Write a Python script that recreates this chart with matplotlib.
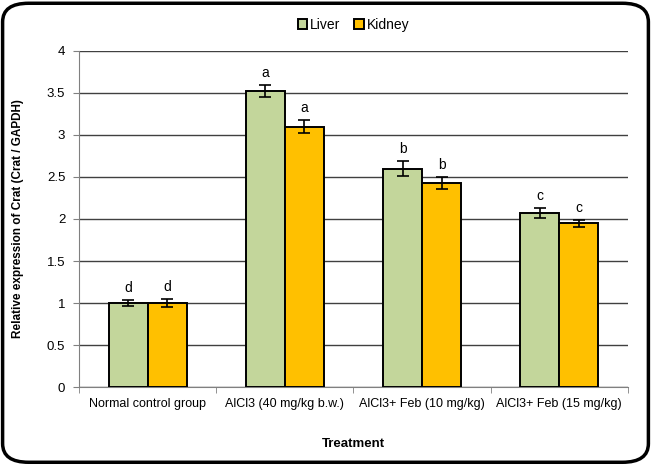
import matplotlib
matplotlib.use("Agg")
import matplotlib.pyplot as plt
import numpy as np
from matplotlib.patches import FancyBboxPatch

plt.rcParams['font.family'] = ['Liberation Sans', 'DejaVu Sans']

groups = ['Normal control group', 'AlCl3 (40 mg/kg b.w.)',
          'AlCl3+ Feb (10 mg/kg)', 'AlCl3+ Feb (15 mg/kg)']
liver = [1.0, 3.52, 2.6, 2.07]
liver_err = [0.04, 0.07, 0.09, 0.06]
kidney = [1.0, 3.1, 2.43, 1.95]
kidney_err = [0.05, 0.08, 0.07, 0.04]
liver_sig = ['d', 'a', 'b', 'c']
kidney_sig = ['d', 'a', 'b', 'c']

fig = plt.figure(figsize=(6.51, 4.66), dpi=100)
ax = fig.add_axes([0.1215, 0.1695, 0.843, 0.7211])

x = np.arange(len(groups))
w = 0.285
c_liver = '#c3d69b'
c_kidney = '#ffc000'

ax.bar(x - w / 2, liver, w, color=c_liver, edgecolor='black', linewidth=1.4,
       label='Liver', zorder=3)
ax.bar(x + w / 2, kidney, w, color=c_kidney, edgecolor='black', linewidth=1.4,
       label='Kidney', zorder=3)
ax.errorbar(x - w / 2, liver, yerr=liver_err, fmt='none', ecolor='black',
            elinewidth=1.2, capsize=4, capthick=1.2, zorder=4)
ax.errorbar(x + w / 2, kidney, yerr=kidney_err, fmt='none', ecolor='black',
            elinewidth=1.2, capsize=4, capthick=1.2, zorder=4)

for i in range(len(groups)):
    ax.text(x[i] - w / 2, liver[i] + liver_err[i] + 0.06, liver_sig[i],
            ha='center', va='bottom', fontsize=10)
    ax.text(x[i] + w / 2, kidney[i] + kidney_err[i] + 0.06, kidney_sig[i],
            ha='center', va='bottom', fontsize=10)

ax.set_xlim(-0.5, len(groups) - 0.5)
ax.set_ylim(0, 4)
ax.set_yticks(np.arange(0, 4.01, 0.5))
ax.set_yticklabels(['0', '0.5', '1', '1.5', '2', '2.5', '3', '3.5', '4'])
ax.yaxis.grid(True, color='#404040', linewidth=1.0, zorder=0)
ax.set_axisbelow(True)

ax.set_xticks(x)
ax.set_xticklabels(groups, fontsize=9)
ax.tick_params(axis='x', length=0, pad=8)
ax.set_xticks(np.arange(-0.5, len(groups), 1), minor=True)
ax.tick_params(axis='x', which='minor', length=4, color='#808080')
ax.tick_params(axis='y', labelsize=9.5, length=4, color='#808080', pad=6)

for s in ['top', 'right']:
    ax.spines[s].set_visible(False)
ax.spines['left'].set_color('#808080')
ax.spines['bottom'].set_color('#808080')

ax.set_ylabel('Relative expression of Crat (Crat / GAPDH)', fontsize=8.5,
              fontweight='bold', labelpad=16)
ax.set_xlabel('Treatment', fontsize=9.5, fontweight='bold', labelpad=20)

ax.legend(loc='upper center', bbox_to_anchor=(0.5, 1.135), ncol=2, frameon=False,
          fontsize=10, handlelength=0.7, handleheight=0.7, handletextpad=0.2,
          columnspacing=1.0)

border = FancyBboxPatch((0.004, 0.008), 0.992, 0.985,
                        boxstyle='round,pad=0,rounding_size=0.04',
                        transform=fig.transFigure, facecolor='none',
                        edgecolor='black', linewidth=2.5)
fig.patches.append(border)

fig.savefig('out.png', dpi=100)
